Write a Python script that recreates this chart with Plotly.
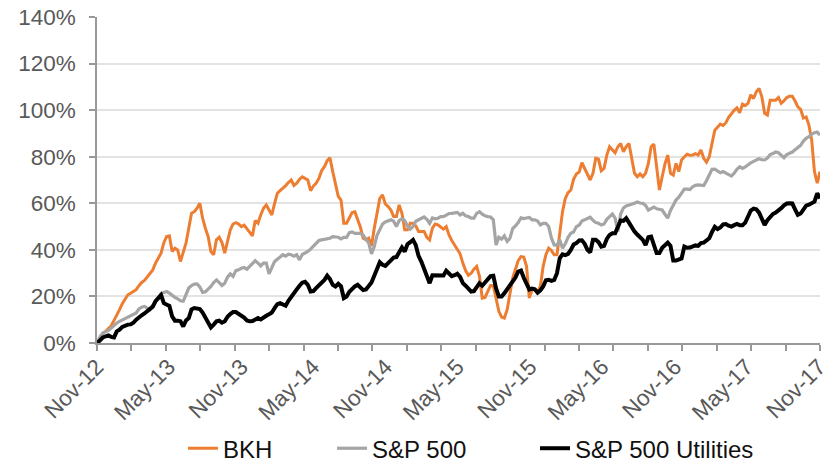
import pandas as pd
import plotly.graph_objects as go

# weekly observation dates (Fridays)
dates = pd.date_range("2012-11-02", periods=262, freq="7D")

bkh = [0, 2.5, 4.3, 5.0, 6.0, 7.4, 9.7, 11.7, 14.3, 16.9,
       18.6, 20.7, 21.4, 22.1, 22.9, 24.6, 26.0, 26.9, 28.3, 29.7,
       31.4, 34.3, 36.4, 38.6, 43.1, 45.7, 46.0, 39.3, 40.7, 40.0,
       35.0, 38.6, 42.9, 49.3, 55.7, 56.4, 57.9, 60.0, 53.6, 49.3,
       45.7, 39.3, 37.9, 44.3, 45.4, 43.1, 38.6, 43.6, 48.6, 51.1,
       51.7, 51.1, 50.0, 50.6, 49.1, 47.4, 46.0, 52.6, 51.4, 55.0,
       57.9, 59.3, 57.1, 55.0, 60.0, 64.3, 65.4, 66.4, 67.6, 68.9,
       70.0, 67.7, 68.6, 70.3, 71.4, 70.7, 70.0, 65.4, 67.4, 68.6,
       70.7, 74.0, 75.7, 78.3, 79.5, 73.6, 67.9, 63.0, 61.4, 51.4,
       51.4, 54.0, 56.0, 56.3, 53.1, 49.7, 45.0, 44.3, 45.0, 41.7,
       49.3, 56.4, 62.1, 63.6, 59.7, 58.6, 57.1, 54.3, 54.3, 59.3,
       55.7, 48.6, 48.6, 51.4, 51.4, 50.3, 47.9, 47.9, 47.9, 45.4,
       44.3, 49.3, 51.1, 50.7, 49.6, 48.9, 50.0, 46.4, 44.0, 42.1,
       40.7, 38.3, 34.3, 31.1, 29.1, 30.0, 31.7, 32.9, 28.6, 19.3,
       19.6, 22.1, 24.7, 24.6, 18.6, 13.6, 11.1, 10.7, 14.3, 21.7,
       27.9, 31.7, 35.4, 37.1, 36.9, 32.9, 19.3, 22.9, 22.9, 22.0,
       24.3, 32.9, 37.9, 40.7, 39.7, 37.9, 37.9, 47.1, 56.4, 62.1,
       64.6, 65.7, 70.3, 72.6, 73.4, 77.4, 75.0, 72.9, 70.0, 72.9,
       79.3, 78.9, 74.0, 75.0, 80.7, 84.3, 83.1, 81.7, 84.3, 85.7,
       82.1, 84.3, 85.7, 80.0, 72.9, 71.4, 72.6, 71.4, 72.9, 77.1,
       84.3, 85.4, 75.7, 65.7, 71.4, 76.9, 80.7, 72.9, 72.1, 77.1,
       73.6, 78.6, 80.0, 81.1, 80.6, 80.7, 81.3, 80.7, 82.9, 79.3,
       77.7, 80.0, 85.7, 91.4, 92.7, 94.0, 93.4, 94.6, 96.9, 98.6,
       99.9, 101.0, 98.9, 102.6, 102.0, 102.9, 106.6, 105.0, 107.9, 109.3,
       105.7, 98.6, 97.9, 104.3, 104.3, 104.3, 105.4, 102.9, 104.0, 105.4,
       106.0, 106.0, 103.9, 101.4, 100.3, 96.6, 97.1, 93.6, 87.1, 73.6,
       68.6, 73.6]

sp500 = [0, 2.9, 4.3, 4.9, 5.4, 6.4, 7.6, 8.6, 9.3, 9.9,
         10.4, 11.1, 11.7, 12.1, 12.9, 14.6, 15.4, 15.7, 15.0, 14.3,
         16.0, 17.9, 19.4, 21.3, 21.7, 22.1, 21.4, 20.4, 19.6, 19.0,
         18.1, 17.9, 21.1, 23.6, 24.7, 25.3, 25.4, 24.1, 21.7, 22.0,
         23.1, 24.3, 26.0, 27.1, 25.9, 24.7, 25.7, 28.3, 29.7, 28.6,
         31.1, 31.4, 32.1, 32.4, 31.7, 32.9, 34.0, 35.3, 34.3, 33.1,
         34.3, 34.3, 29.7, 32.1, 35.0, 36.0, 37.1, 37.9, 37.3, 38.1,
         37.9, 37.3, 37.9, 35.7, 38.0, 38.6, 39.3, 40.3, 41.6, 42.9,
         44.0, 44.3, 44.6, 45.0, 45.0, 45.7, 45.7, 45.4, 44.7, 45.4,
         45.4, 47.4, 47.7, 47.1, 47.1, 47.1, 46.3, 44.6, 42.9, 38.3,
         41.4, 46.3, 48.6, 51.1, 52.0, 52.6, 52.9, 52.3, 50.0, 52.6,
         53.4, 52.6, 50.3, 48.9, 50.0, 52.3, 52.9, 53.6, 54.1, 53.1,
         51.4, 53.7, 53.3, 53.6, 54.3, 54.3, 55.0, 55.6, 55.7, 56.0,
         56.1, 55.0, 55.7, 54.6, 54.3, 53.6, 53.6, 55.7, 56.4, 55.3,
         54.6, 54.3, 54.1, 52.9, 42.1, 45.4, 44.6, 46.0, 43.6, 45.0,
         49.1, 50.3, 51.7, 53.7, 53.4, 53.7, 53.9, 52.9, 52.9, 52.4,
         50.7, 51.4, 51.4, 50.0, 45.0, 42.1, 42.0, 44.3, 40.7, 42.6,
         45.4, 47.1, 47.7, 50.0, 50.6, 52.4, 52.9, 53.4, 54.0, 52.7,
         51.7, 51.4, 50.7, 51.1, 53.1, 54.3, 55.4, 53.6, 47.9, 55.4,
         58.0, 58.9, 59.3, 59.4, 60.0, 60.6, 60.1, 60.0, 59.1, 57.1,
         57.9, 58.4, 57.6, 57.4, 57.1, 55.3, 53.6, 56.9, 58.9, 61.4,
         62.6, 64.6, 66.1, 66.1, 65.9, 67.1, 67.7, 67.9, 67.6, 67.6,
         69.7, 72.6, 74.6, 74.7, 74.0, 73.1, 73.6, 73.0, 72.3, 71.7,
         72.9, 74.6, 75.7, 75.0, 75.6, 76.6, 77.4, 78.0, 78.6, 79.1,
         78.7, 78.6, 79.4, 80.9, 81.4, 82.0, 81.7, 80.4, 79.6, 80.9,
         81.4, 82.0, 83.0, 83.9, 84.9, 86.7, 87.9, 88.6, 89.7, 90.3,
         90.6, 89.3]

utilities = [0, 1.4, 2.4, 2.9, 3.3, 2.6, 2.4, 5.0, 5.7, 6.9,
             7.6, 7.9, 8.0, 8.7, 10.0, 11.1, 11.9, 12.7, 13.7, 14.4,
             15.6, 18.0, 19.4, 20.6, 17.1, 16.4, 15.9, 11.4, 9.6, 9.6,
             9.3, 7.1, 9.7, 10.7, 14.4, 15.0, 15.0, 14.6, 13.1, 10.9,
             8.6, 6.7, 7.9, 9.3, 9.6, 8.7, 9.3, 11.3, 12.4, 13.3,
             13.3, 12.6, 11.4, 10.9, 9.7, 9.3, 9.4, 10.1, 10.7, 10.1,
             11.1, 11.7, 12.3, 13.1, 15.0, 16.7, 17.1, 16.3, 16.0, 18.1,
             20.0, 21.7, 23.0, 24.6, 25.9, 26.3, 25.0, 22.1, 22.3, 23.6,
             24.6, 25.9, 27.1, 28.9, 27.4, 25.0, 24.3, 25.4, 24.3, 19.3,
             20.0, 22.0, 23.3, 24.3, 25.0, 24.0, 22.7, 23.0, 24.6, 26.0,
             28.9, 31.7, 34.7, 33.6, 33.1, 34.3, 35.6, 36.7, 36.9, 38.6,
             41.0, 39.3, 42.4, 43.3, 44.3, 42.0, 37.4, 35.0, 32.0, 29.1,
             25.7, 29.1, 29.0, 29.0, 29.1, 29.0, 31.0, 29.9, 28.7, 29.1,
             29.7, 28.4, 25.7, 24.6, 23.4, 22.1, 22.3, 24.4, 25.7, 24.6,
             26.0, 27.7, 28.7, 28.9, 23.4, 20.0, 20.0, 21.4, 23.1, 24.6,
             27.0, 28.1, 30.7, 31.1, 28.0, 25.6, 23.0, 23.4, 23.1, 21.6,
             22.6, 24.3, 26.9, 27.1, 26.7, 27.1, 30.0, 36.4, 38.1, 37.7,
             38.3, 40.0, 42.3, 42.9, 44.0, 44.1, 42.6, 40.0, 38.9, 44.3,
             44.3, 43.3, 41.4, 41.7, 44.7, 46.4, 47.1, 47.1, 50.0, 52.6,
             52.4, 53.6, 51.7, 49.4, 47.9, 46.6, 45.4, 44.3, 42.0, 45.4,
             45.7, 42.7, 38.6, 38.6, 40.9, 42.0, 43.1, 41.7, 35.4, 35.4,
             36.1, 36.3, 41.4, 40.9, 41.0, 41.4, 41.9, 41.7, 42.9, 43.1,
             44.1, 45.0, 47.7, 49.9, 48.9, 49.6, 50.9, 51.1, 50.4, 50.0,
             50.6, 51.1, 50.6, 50.6, 51.7, 54.6, 56.9, 57.7, 57.4, 56.0,
             53.6, 50.7, 52.7, 54.3, 55.4, 56.0, 56.7, 57.9, 59.1, 59.9,
             60.0, 59.9, 57.4, 55.0, 55.6, 57.7, 59.0, 59.4, 60.0, 60.7,
             64.3, 62.1]

series_names = ["BKH", "S&P 500", "S&P 500 Utilities"]
series_values = [bkh, sp500, utilities]
series_colors = ["#ED7D31", "#A5A5A5", "#000000"]
series_widths = [3, 3.2, 4]
legend_ids = ["legend", "legend2", "legend3"]

x_start = pd.Timestamp("2012-11-01")
x_end = pd.Timestamp("2017-11-03")
label_dates = pd.date_range("2012-11-01", "2017-11-01", freq="6MS")
label_text = [d.strftime("%b-%y") for d in label_dates]
n_minor = 21
minor_ticks = [x_start + (x_end - x_start) * i / n_minor for i in range(n_minor + 1)]

fig = go.Figure()
for name, vals, col, w, lg in zip(series_names, series_values, series_colors,
                                  series_widths, legend_ids):
    fig.add_trace(go.Scatter(x=dates, y=vals, name=name, mode="lines",
                             line=dict(color=col, width=w), legend=lg))

font_family = "Liberation Sans, Arial, sans-serif"
axis_gray = "#999999"
tick_font = dict(size=22.5, color="#595959", family=font_family)
leg_common = dict(orientation="h", xanchor="left", y=-0.324, yanchor="middle",
                  font=dict(size=24, color="#111111", family=font_family),
                  bgcolor="rgba(0,0,0,0)", borderwidth=0)

fig.update_layout(
    width=832, height=463,
    margin=dict(l=97, r=12, t=17, b=120, autoexpand=False),
    paper_bgcolor="white", plot_bgcolor="white",
    font=dict(family=font_family, size=22.5, color="#595959"),
    showlegend=True,
    legend=dict(x=0.1189, **leg_common),
    legend2=dict(x=0.3251, **leg_common),
    legend3=dict(x=0.6058, **leg_common),
    xaxis=dict(type="date", range=[x_start, x_end], automargin=False,
               tickmode="array", tickvals=list(label_dates), ticktext=label_text,
               tickangle=-45, ticks="outside", ticklen=0, tickcolor=axis_gray,
               showline=True, linecolor=axis_gray, linewidth=1.5,
               showgrid=False, zeroline=False,
               minor=dict(tickmode="array", tickvals=minor_ticks, ticks="outside",
                          ticklen=6, tickcolor=axis_gray, tickwidth=1.5, showgrid=False),
               tickfont=tick_font),
    yaxis=dict(range=[0, 140], dtick=20, ticksuffix="%", automargin=False,
               showline=True, linecolor=axis_gray, linewidth=1.5,
               ticks="outside", ticklen=6, tickcolor=axis_gray, tickwidth=1.5,
               ticklabelstandoff=9,
               showgrid=True, gridcolor="#e3e3e3", gridwidth=1.5,
               zeroline=False, tickfont=tick_font),
)

fig.write_html("out.html", config={"displayModeBar": False},
               post_script="document.body.style.margin='0px';")
